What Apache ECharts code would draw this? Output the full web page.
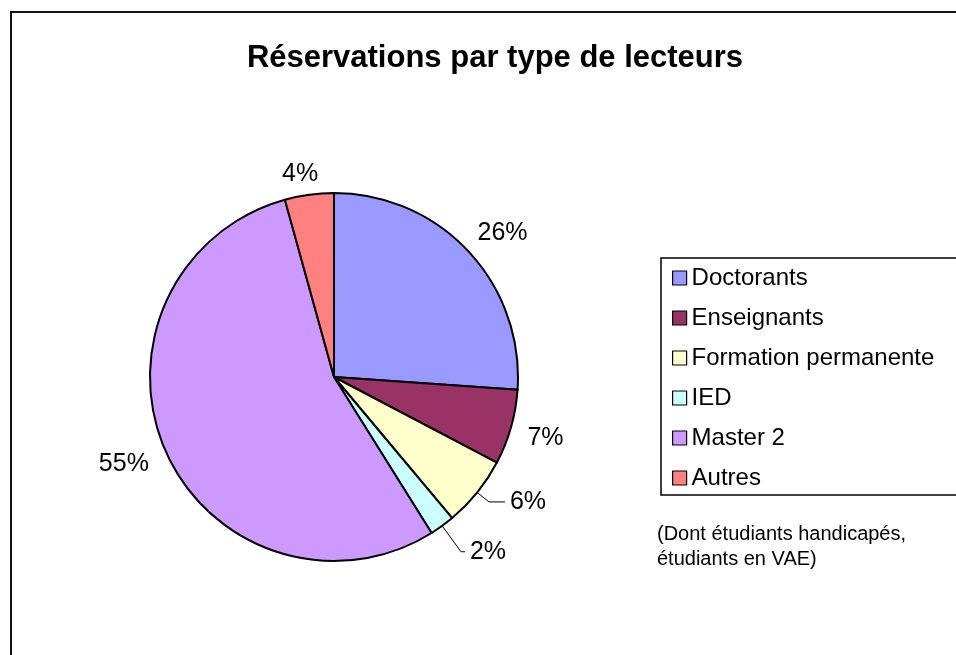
<!DOCTYPE html>
<html>
<head>
<meta charset="utf-8">
<title>Réservations par type de lecteurs</title>
<script src="https://cdn.jsdelivr.net/npm/echarts@6/dist/echarts.min.js"></script>
<style>
  html, body { margin: 0; padding: 0; background: #fff; }
  #main { width: 956px; height: 655px; }
</style>
</head>
<body>
<div id="main"></div>
<script>
// ======================= données =======================
let categories = ['Doctorants', 'Enseignants', 'Formation permanente', 'IED', 'Master 2', 'Autres']
let values = [26.1, 6.6, 6.2, 2.2, 54.6, 4.3]
let colors = ['#9999FF', '#993366', '#FFFFCC', '#CCFFFF', '#CC99FF', '#FF8080']

let font = "'Liberation Sans', Arial, sans-serif"

// réglages des étiquettes (style Excel) : trait de rappel pour les petites parts
let lineOpts = {
  'Formation permanente': { show: true, length: 15, length2: 16 },
  'IED': { show: true, length: 32, length2: 4 }
}
// petits décalages des étiquettes sans trait
let labelShift = {
  'Doctorants': [-10, -8],
  'Enseignants': [-6, 7],
  'Master 2': [5, 7],
  'Autres': [19, -6]
}

// ======================= camembert =======================
let myChart = echarts.init(document.getElementById('main'))

let option = {
  backgroundColor: '#fff',
  animation: false,
  title: {
    text: 'Réservations par type de lecteurs',
    left: 490,
    textAlign: 'center',
    top: 38,
    textStyle: {
      fontFamily: font,
      fontSize: 31,
      fontWeight: 'bold',
      color: '#000'
    }
  },
  legend: {
    orient: 'vertical',
    left: 661,
    top: 258,
    padding: [8, 40, 5, 11],
    itemGap: 16,
    itemWidth: 14,
    itemHeight: 14,
    icon: 'rect',
    borderColor: '#000',
    borderWidth: 1.5,
    selectedMode: false,
    itemStyle: { borderColor: '#000', borderWidth: 1.2 },
    textStyle: {
      fontFamily: font,
      fontSize: 24,
      lineHeight: 24,
      color: '#000'
    },
    data: categories
  },
  graphic: [
    {
      // cadre du graphique
      type: 'rect',
      shape: { x: 11, y: 12, width: 1000, height: 700 },
      style: { fill: 'none', stroke: '#111', lineWidth: 2 },
      silent: true
    },
    {
      type: 'text',
      left: 657,
      top: 522,
      style: {
        text: '(Dont étudiants handicapés,\nétudiants en VAE)',
        font: '20px ' + font,
        lineHeight: 25,
        fill: '#000'
      }
    }
  ],
  series: [
    {
      name: 'Réservations',
      type: 'pie',
      center: [334, 377],
      radius: 184,
      startAngle: 90,
      clockwise: true,
      avoidLabelOverlap: false,
      itemStyle: {
        borderColor: '#000',
        borderWidth: 2
      },
      label: {
        show: true,
        position: 'outside',
        fontFamily: font,
        fontSize: 25,
        color: '#000',
        formatter: function (p) {
          return Math.round(p.percent) + '%'
        }
      },
      labelLine: {
        show: false,
        length: 15,
        length2: 3,
        lineStyle: { color: '#000', width: 1 }
      },
      labelLayout: function (params) {
        let s = labelShift[categories[params.dataIndex]]
        return s ? { dx: s[0], dy: s[1] } : {}
      },
      emphasis: { disabled: true },
      data: categories.map(function (name, i) {
        let item = {
          name: name,
          value: values[i],
          itemStyle: { color: colors[i] }
        }
        if (lineOpts[name]) item.labelLine = lineOpts[name]
        return item
      })
    }
  ]
}

myChart.setOption(option)
</script>
</body>
</html>
